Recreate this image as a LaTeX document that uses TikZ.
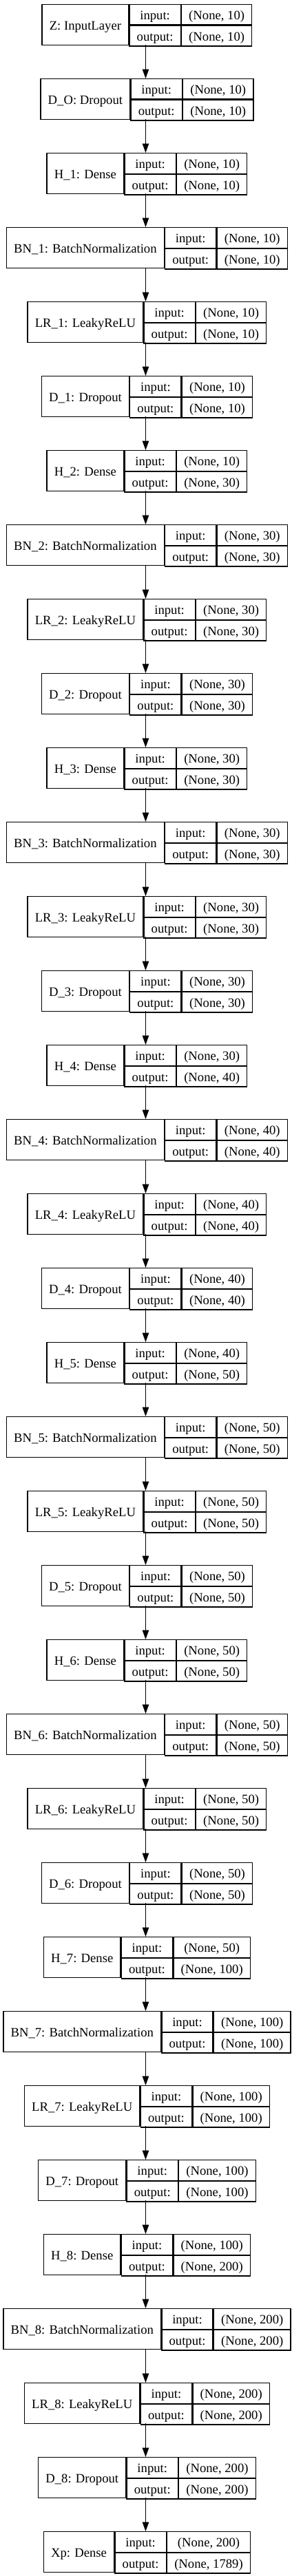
\documentclass[tikz,border=0pt]{standalone}
\usepackage{fontspec}
\setmainfont{Liberation Serif}
\usepackage{tikz}
\usetikzlibrary{arrows.meta, calc, positioning}

\newcommand\recfont{\fontsize{14}{17}\selectfont}
\newlength\wlbl
\newlength\wmid
\newlength\wval
\newlength\wvalb
\tikzset{
  cell/.style={draw, line width=1pt, inner sep=0pt, font=\recfont, text height=10.5pt, text depth=0pt, minimum height=22.125pt, anchor=north west},
  flow/.style={-{Triangle[length=10pt, width=7pt]}, line width=1pt}
}
\newcommand\layerbox[4]{% index, label, input size, output size
  \pgfinterruptpicture
    \settowidth\wlbl{\normalfont\recfont #2}\global\wlbl=\wlbl
    \settowidth\wmid{\normalfont\recfont output:}\global\wmid=\wmid
    \settowidth\wval{\normalfont\recfont (None, #3)}%
    \settowidth\wvalb{\normalfont\recfont (None, #4)}%
    \ifdim\wvalb>\wval \wval=\wvalb \fi
    \global\wval=\wval
  \endpgfinterruptpicture
  \addtolength\wlbl{16pt}\addtolength\wmid{16pt}\addtolength\wval{16pt}%
  \pgfmathsetmacro\recx{158.6-(\wlbl+\wmid+\wval)/2}%
  \pgfmathsetmacro\recy{-4.5-81*#1}%
  \node[cell, minimum width=\wlbl, minimum height=44.25pt] (lay#1) at (\recx pt, \recy pt) {#2};
  \node[cell, minimum width=\wmid] (lay#1-in) at (lay#1.north east) {input:};
  \node[cell, minimum width=\wmid] (lay#1-out) at (lay#1-in.south west) {output:};
  \node[cell, minimum width=\wval] (lay#1-iv) at (lay#1-in.north east) {(None, #3)};
  \node[cell, minimum width=\wval] (lay#1-ov) at (lay#1-out.north east) {(None, #4)};
  \coordinate (top#1) at (158.6pt, \recy pt);
  \coordinate (bot#1) at ($ (top#1) + (0,-44.25pt) $);
}

\begin{document}
\begin{tikzpicture}
\useasboundingbox (0,0) rectangle (318pt,-2807.25pt);

\foreach \lbl/\vin/\vout [count=\i from 0] in {
  {Z: InputLayer}/10/10,
  {D\_O: Dropout}/10/10,
  {H\_1: Dense}/10/10,
  {BN\_1: BatchNormalization}/10/10,
  {LR\_1: LeakyReLU}/10/10,
  {D\_1: Dropout}/10/10,
  {H\_2: Dense}/10/30,
  {BN\_2: BatchNormalization}/30/30,
  {LR\_2: LeakyReLU}/30/30,
  {D\_2: Dropout}/30/30,
  {H\_3: Dense}/30/30,
  {BN\_3: BatchNormalization}/30/30,
  {LR\_3: LeakyReLU}/30/30,
  {D\_3: Dropout}/30/30,
  {H\_4: Dense}/30/40,
  {BN\_4: BatchNormalization}/40/40,
  {LR\_4: LeakyReLU}/40/40,
  {D\_4: Dropout}/40/40,
  {H\_5: Dense}/40/50,
  {BN\_5: BatchNormalization}/50/50,
  {LR\_5: LeakyReLU}/50/50,
  {D\_5: Dropout}/50/50,
  {H\_6: Dense}/50/50,
  {BN\_6: BatchNormalization}/50/50,
  {LR\_6: LeakyReLU}/50/50,
  {D\_6: Dropout}/50/50,
  {H\_7: Dense}/50/100,
  {BN\_7: BatchNormalization}/100/100,
  {LR\_7: LeakyReLU}/100/100,
  {D\_7: Dropout}/100/100,
  {H\_8: Dense}/100/200,
  {BN\_8: BatchNormalization}/200/200,
  {LR\_8: LeakyReLU}/200/200,
  {D\_8: Dropout}/200/200,
  {Xp: Dense}/200/1789}
  {\layerbox{\i}{\lbl}{\vin}{\vout}}

% edges between consecutive layers
\foreach \i [remember=\i as \j (initially 0)] in {1,...,34}
  \draw[flow] (bot\j) -- (top\i);
\end{tikzpicture}
\end{document}
